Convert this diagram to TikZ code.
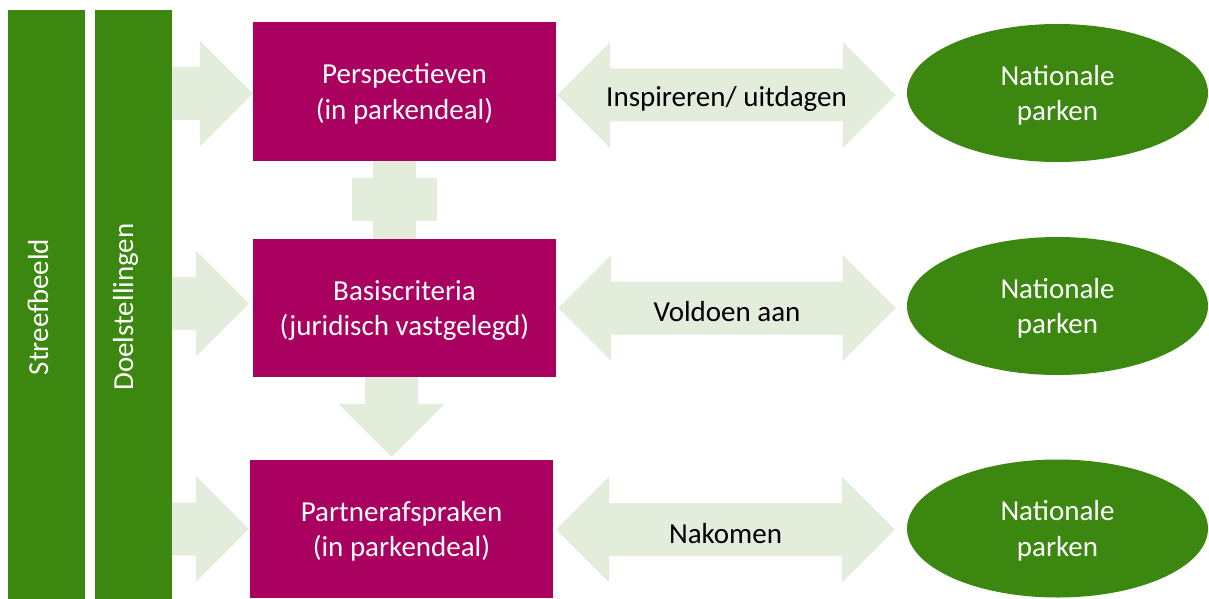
\documentclass[tikz,border=0pt]{standalone}
\usepackage{fontspec}
\setmainfont{Carlito}
\usetikzlibrary{calc,shapes.geometric,backgrounds}

\definecolor{parkgreen}{HTML}{3B870F}
\definecolor{dealred}{HTML}{AA0060}
\definecolor{arrowgreen}{HTML}{E2EDDB}

%Define arrow parameters
\def\shaft{26.5pt}   %half width of shaft.
\def\head{53pt}      %half width of head.
\def\hlen{53pt}      %length of head.

% block arrow pointing right, from #1 to tip #2
\newcommand\rarrow[2]{%
  \fill[arrowgreen] let \p1=#1, \p2=#2 in
    (\x1,\y2+\shaft) -- (\x2-\hlen,\y2+\shaft) -- (\x2-\hlen,\y2+\head) -- (\x2,\y2)
    -- (\x2-\hlen,\y2-\head) -- (\x2-\hlen,\y2-\shaft) -- (\x1,\y2-\shaft) -- cycle;}
% block arrow pointing down, from #1 to tip #2
\newcommand\darrow[2]{%
  \fill[arrowgreen] let \p1=#1, \p2=#2 in
    (\x1-\shaft,\y1) -- (\x1-\shaft,\y2+\hlen) -- (\x1-\head,\y2+\hlen) -- (\x1,\y2)
    -- (\x1+\head,\y2+\hlen) -- (\x1+\shaft,\y2+\hlen) -- (\x1+\shaft,\y1) -- cycle;}
% double block arrow between tips #1 and #2
\newcommand\dblarrow[2]{%
  \fill[arrowgreen] let \p1=#1, \p2=#2 in
    (\x1,\y1) -- (\x1+\hlen,\y1+\head) -- (\x1+\hlen,\y1+\shaft) -- (\x2-\hlen,\y1+\shaft)
    -- (\x2-\hlen,\y1+\head) -- (\x2,\y1) -- (\x2-\hlen,\y1-\head) -- (\x2-\hlen,\y1-\shaft)
    -- (\x1+\hlen,\y1-\shaft) -- (\x1+\hlen,\y1-\head) -- cycle;}

\begin{document}
\begin{tikzpicture}[x=1pt,y=-1pt,
  txt/.style={font=\fontsize{29}{35.5}\selectfont, align=center},
  bar/.style={fill=parkgreen, minimum width=77pt, minimum height=589pt, inner sep=0pt},
  bartext/.style={txt, text=white, rotate=90, anchor=base},
  deal/.style={txt, fill=dealred, text=white, minimum width=303pt, minimum height=138pt, inner sep=0pt, text depth=-7pt},
  park/.style={txt, ellipse, fill=parkgreen, text=white, minimum width=301pt, minimum height=138pt, inner sep=0pt, text depth=-7pt},
  label/.style={txt, yshift=-4pt}]
\useasboundingbox (0,0) rectangle (1209,599);

% BARS
\node[bar] (streef) at (46.5,304.5) {};
\node[bar] (doel) at (133.5,304.5) {};
\node[bartext] (streeflbl) at (48,307) {Streefbeeld};
\node[bartext] (doellbl) at (133,307) {Doelstellingen};

% DEAL BOXES
\node[deal] (persp) at (404.5,91.5) {Perspectieven\\(in parkendeal)};
\node[deal] (basis) at (404.5,308) {Basiscriteria\\(juridisch vastgelegd)};
\node[deal] (partner) at (401.5,529) {Partnerafspraken\\(in parkendeal)};

% NATIONAL PARKS
\node[park] (nat1) at (1057.5,93) {Nationale\\parken};
\node[park] (nat2) at (1057.5,306) {Nationale\\parken};
\node[park] (nat3) at (1057.5,528.5) {Nationale\\parken};

% Define coordinates
\coordinate (a1l) at ($(persp.east |- nat1.west)+(1,2)$);
\coordinate (a1r) at ($(nat1.west)+(-11,2)$);
\coordinate (a2l) at ($(basis.east |- nat2.west)+(2,2)$);
\coordinate (a2r) at ($(nat2.west)+(-11,2)$);
\coordinate (a3l) at ($(partner.east |- nat3.west)+(3,1)$);
\coordinate (a3r) at ($(nat3.west)+(-12,1)$);
\coordinate (plus) at ($(persp.south)!0.5!(basis.north)+(-10,0)$);

% ARROWS
\begin{scope}[on background layer]
\rarrow{(doel.east)}{($(persp.west)+(0,2)$)}
\rarrow{(doel.east)}{($(basis.west)+(-4,-4.5)$)}
\rarrow{(doel.east)}{($(partner.west)+(-1,0)$)}
\darrow{($(basis.south)+(-13,0)$)}{($(partner.north)+(-10,-3)$)}
\dblarrow{(a1l)}{(a1r)}
\dblarrow{(a2l)}{(a2r)}
\dblarrow{(a3l)}{(a3r)}
\fill[arrowgreen] (plus) ++(-21.5,-42.5) rectangle ++(43,85);
\fill[arrowgreen] (plus) ++(-42.5,-21.5) rectangle ++(85,43);
\end{scope}

% Arrow labels
\node[label] (lbl1) at ($(a1l)!0.5!(a1r)$) {Inspireren/ uitdagen};
\node[label] (lbl2) at ($(a2l)!0.5!(a2r)$) {Voldoen aan};
\node[label] (lbl3) at ($(a3l)!0.5!(a3r)$) {Nakomen};

\end{tikzpicture}
\end{document}
